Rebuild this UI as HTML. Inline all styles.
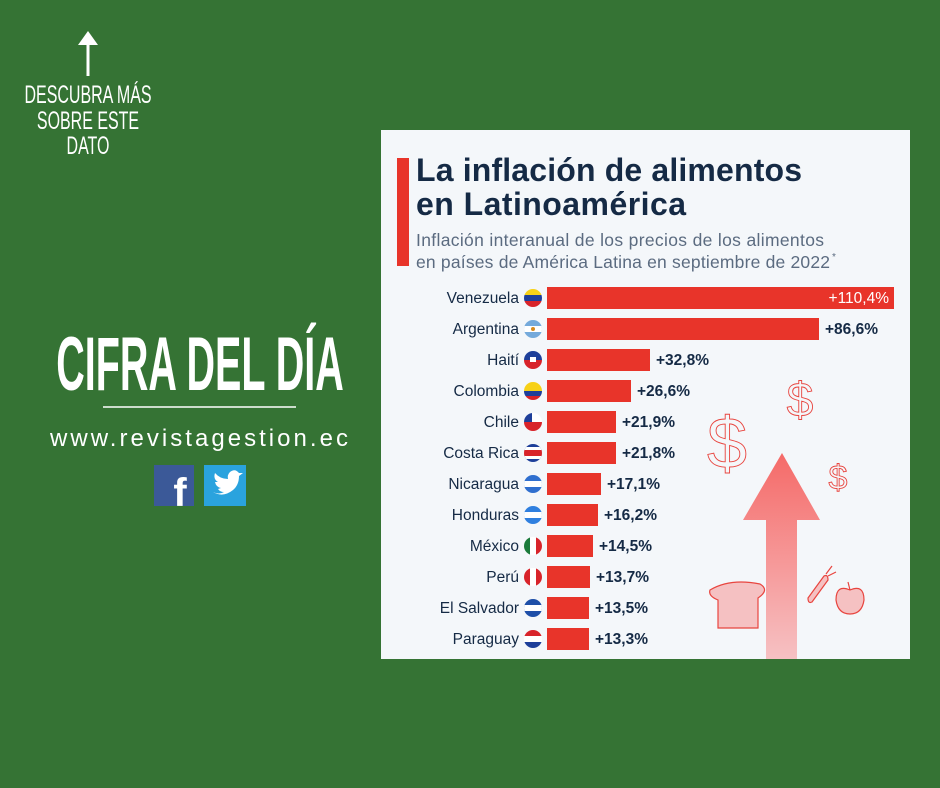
<!DOCTYPE html>
<html><head><meta charset="utf-8"><style>
body{margin:0;width:940px;height:788px;background:#357334;overflow:hidden;position:relative;font-family:"Liberation Sans",sans-serif}
.abs{position:absolute}
</style></head><body>
<svg class="abs" style="left:0;top:0" width="940" height="788">
<defs>
<linearGradient id="ag" x1="0" y1="0" x2="0" y2="1"><stop offset="0" stop-color="#f56a68"/><stop offset="1" stop-color="#f6c1c3"/></linearGradient>
<clipPath id="c"><circle r="9"/></clipPath>
</defs>
<line x1="88" y1="40" x2="88" y2="76" stroke="#fff" stroke-width="3"/>
<polygon points="78,45 88,31 98,45" fill="#fff"/>
<g font-family="Liberation Sans Narrow, Liberation Sans, sans-serif" fill="#fff" text-anchor="middle">
<text x="88" y="103" font-size="25" transform="translate(88 0) scale(0.64 1) translate(-88 0)">DESCUBRA MÁS</text>
<text x="88" y="129" font-size="25" transform="translate(88 0) scale(0.64 1) translate(-88 0)">SOBRE ESTE</text>
<text x="88" y="154" font-size="25" transform="translate(88 0) scale(0.64 1) translate(-88 0)">DATO</text>
<text x="200" y="390" font-size="76" font-weight="bold" transform="translate(200 0) scale(0.52 1) translate(-200 0)">CIFRA DEL DÍA</text>
</g>
<line x1="103" y1="407" x2="296" y2="407" stroke="#fff" stroke-width="1.5"/>
<text x="199" y="446" font-size="24" fill="#fff" text-anchor="middle" textLength="298">www.revistagestion.ec</text>
<rect x="154" y="465" width="40" height="41" fill="#3b5998"/>
<text x="180" y="506" font-size="40" font-weight="bold" fill="#fff" text-anchor="middle">f</text>
<rect x="204" y="465" width="42" height="41" fill="#2aa3de"/>
<path d="M213,492 q10,6 20,-2 q6,-5 6,-14 l4,-3 l-4,0 q-4,-5 -9,-1 q-3,3 -2,7 q-8,0 -13,-6 q-2,6 3,9 l-3,0 q1,5 6,6 l-3,1 q2,3 6,3 q-5,3 -11,0z" fill="#fff"/>
<rect x="381" y="130" width="529" height="529" fill="#f4f7fa"/>
<rect x="397" y="158" width="12" height="108" fill="#e8342a"/>
<g fill="#152a45" font-weight="bold" font-size="32">
<text x="416" y="181" textLength="386">La inflación de alimentos</text>
<text x="416" y="215" textLength="270">en Latinoamérica</text>
</g>
<g fill="#5b6b80" font-size="17.5">
<text x="416" y="246" textLength="408">Inflación interanual de los precios de los alimentos</text>
<text x="416" y="268" textLength="414">en países de América Latina en septiembre de 2022</text>
<text x="832" y="260" font-size="10">*</text>
</g>
<polygon points="782,453 820,520 797,520 797,659 766,659 766,520 743,520" fill="url(#ag)"/>
<g fill="none" stroke="#e8453f" stroke-width="0.9" font-family="Liberation Sans,sans-serif">
<text x="727" y="468" font-size="72" text-anchor="middle">$</text>
<text x="800" y="416" font-size="48" text-anchor="middle">$</text>
<text x="838" y="489" font-size="34" text-anchor="middle">$</text>
</g>
<path d="M710,590 q20,-12 50,-6 q10,6 -2,14 l0,30 l-40,0 l0,-28 q-10,-4 -8,-10z" fill="#f5c1c2" stroke="#e8453f" stroke-width="1.2"/>
<path d="M808,598 l16,-22 q4,-2 4,4 l-16,22 q-4,2 -4,-4z" fill="#f5c1c2" stroke="#e8453f" stroke-width="1.2"/>
<path d="M826,574 l6,-8 M828,576 l8,-4" stroke="#e8453f" stroke-width="1.2"/>
<path d="M850,590 q-14,-6 -14,10 q2,14 14,14 q12,0 14,-14 q0,-16 -14,-10z M850,590 l-2,-8" fill="#f5c1c2" stroke="#e8453f" stroke-width="1.2"/>
<g font-size="15.5" fill="#152a45">
<g transform="translate(0,298)"><text x="519" y="5" text-anchor="end">Venezuela</text><g transform="translate(533,0)" clip-path="url(#c)"><rect x="-9" y="-9" width="18" height="6" fill="#f7d117"/><rect x="-9" y="-3" width="18" height="6" fill="#1e3f9a"/><rect x="-9" y="3" width="18" height="6" fill="#d8232a"/></g><rect x="547" y="-11" width="347" height="22" fill="#e8342a"/><text x="889" y="5" text-anchor="end" fill="#fff">+110,4%</text></g>
<g transform="translate(0,329)"><text x="519" y="5" text-anchor="end">Argentina</text><g transform="translate(533,0)" clip-path="url(#c)"><rect x="-9" y="-9" width="18" height="18" fill="#75aadb"/><rect x="-9" y="-3" width="18" height="6" fill="#fff"/><circle r="2" fill="#d88a1c"/></g><rect x="547" y="-11" width="272" height="22" fill="#e8342a"/><text x="825" y="5" font-weight="bold">+86,6%</text></g>
<g transform="translate(0,360)"><text x="519" y="5" text-anchor="end">Haití</text><g transform="translate(533,0)" clip-path="url(#c)"><rect x="-9" y="-9" width="18" height="9" fill="#1e3f9a"/><rect x="-9" y="0" width="18" height="9" fill="#d8232a"/><rect x="-3" y="-3" width="6" height="5" fill="#fff"/></g><rect x="547" y="-11" width="103" height="22" fill="#e8342a"/><text x="656" y="5" font-weight="bold">+32,8%</text></g>
<g transform="translate(0,391)"><text x="519" y="5" text-anchor="end">Colombia</text><g transform="translate(533,0)" clip-path="url(#c)"><rect x="-9" y="-9" width="18" height="9" fill="#f7d117"/><rect x="-9" y="0" width="18" height="5" fill="#1e3f9a"/><rect x="-9" y="5" width="18" height="4" fill="#d8232a"/></g><rect x="547" y="-11" width="84" height="22" fill="#e8342a"/><text x="637" y="5" font-weight="bold">+26,6%</text></g>
<g transform="translate(0,422)"><text x="519" y="5" text-anchor="end">Chile</text><g transform="translate(533,0)" clip-path="url(#c)"><rect x="-9" y="-9" width="18" height="9" fill="#fff"/><rect x="-9" y="-9" width="8" height="9" fill="#1e3f9a"/><rect x="-9" y="0" width="18" height="9" fill="#d8232a"/></g><rect x="547" y="-11" width="69" height="22" fill="#e8342a"/><text x="622" y="5" font-weight="bold">+21,9%</text></g>
<g transform="translate(0,453)"><text x="519" y="5" text-anchor="end">Costa Rica</text><g transform="translate(533,0)" clip-path="url(#c)"><rect x="-9" y="-9" width="18" height="18" fill="#1e3f9a"/><rect x="-9" y="-6" width="18" height="12" fill="#fff"/><rect x="-9" y="-3" width="18" height="6" fill="#d8232a"/></g><rect x="547" y="-11" width="69" height="22" fill="#e8342a"/><text x="622" y="5" font-weight="bold">+21,8%</text></g>
<g transform="translate(0,484)"><text x="519" y="5" text-anchor="end">Nicaragua</text><g transform="translate(533,0)" clip-path="url(#c)"><rect x="-9" y="-9" width="18" height="18" fill="#2f6fcf"/><rect x="-9" y="-3" width="18" height="6" fill="#fff"/></g><rect x="547" y="-11" width="54" height="22" fill="#e8342a"/><text x="607" y="5" font-weight="bold">+17,1%</text></g>
<g transform="translate(0,515)"><text x="519" y="5" text-anchor="end">Honduras</text><g transform="translate(533,0)" clip-path="url(#c)"><rect x="-9" y="-9" width="18" height="18" fill="#2f7fdf"/><rect x="-9" y="-3" width="18" height="6" fill="#fff"/></g><rect x="547" y="-11" width="51" height="22" fill="#e8342a"/><text x="604" y="5" font-weight="bold">+16,2%</text></g>
<g transform="translate(0,546)"><text x="519" y="5" text-anchor="end">México</text><g transform="translate(533,0)" clip-path="url(#c)"><rect x="-9" y="-9" width="6" height="18" fill="#1a7a3a"/><rect x="-3" y="-9" width="6" height="18" fill="#fff"/><rect x="3" y="-9" width="6" height="18" fill="#d8232a"/></g><rect x="547" y="-11" width="46" height="22" fill="#e8342a"/><text x="599" y="5" font-weight="bold">+14,5%</text></g>
<g transform="translate(0,577)"><text x="519" y="5" text-anchor="end">Perú</text><g transform="translate(533,0)" clip-path="url(#c)"><rect x="-9" y="-9" width="6" height="18" fill="#d8232a"/><rect x="-3" y="-9" width="6" height="18" fill="#fff"/><rect x="3" y="-9" width="6" height="18" fill="#d8232a"/></g><rect x="547" y="-11" width="43" height="22" fill="#e8342a"/><text x="596" y="5" font-weight="bold">+13,7%</text></g>
<g transform="translate(0,608)"><text x="519" y="5" text-anchor="end">El Salvador</text><g transform="translate(533,0)" clip-path="url(#c)"><rect x="-9" y="-9" width="18" height="18" fill="#1e4fa8"/><rect x="-9" y="-3" width="18" height="6" fill="#fff"/></g><rect x="547" y="-11" width="42" height="22" fill="#e8342a"/><text x="595" y="5" font-weight="bold">+13,5%</text></g>
<g transform="translate(0,639)"><text x="519" y="5" text-anchor="end">Paraguay</text><g transform="translate(533,0)" clip-path="url(#c)"><rect x="-9" y="-9" width="18" height="6" fill="#d8232a"/><rect x="-9" y="-3" width="18" height="6" fill="#fff"/><rect x="-9" y="3" width="18" height="6" fill="#1e3f9a"/></g><rect x="547" y="-11" width="42" height="22" fill="#e8342a"/><text x="595" y="5" font-weight="bold">+13,3%</text></g>
</g>
</svg>
</body></html>
